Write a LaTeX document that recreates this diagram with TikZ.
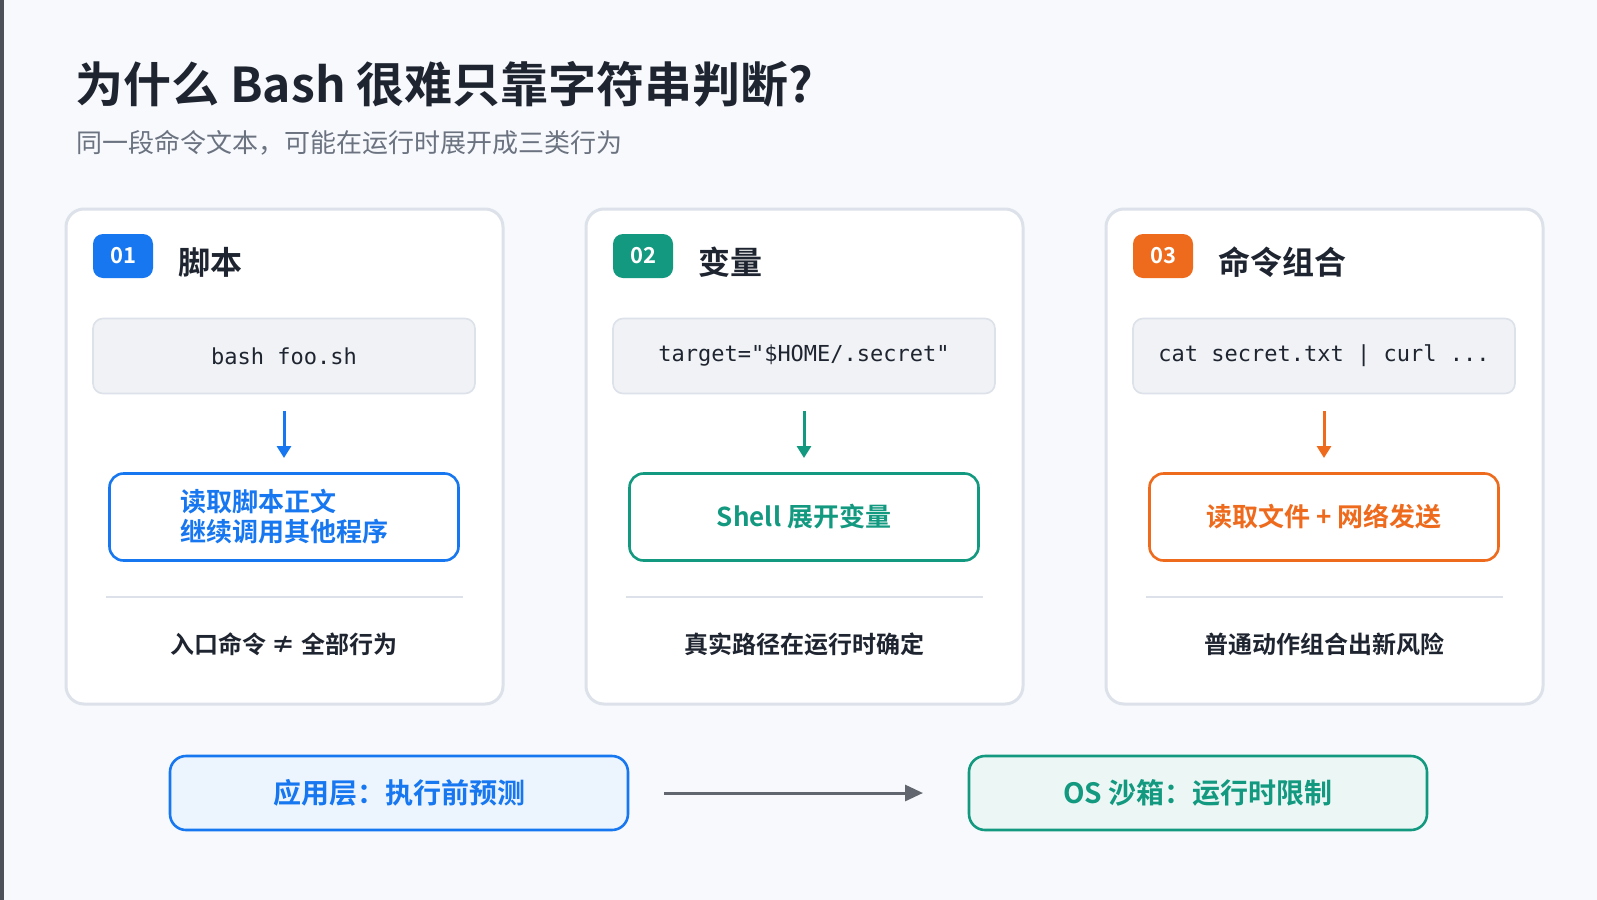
\documentclass[tikz,border=0pt]{standalone}
\usepackage{fontspec}
\setmainfont{Noto Sans CJK SC}
\newfontfamily\cjkb{Noto Sans CJK SC Bold}
\newfontfamily\mono{DejaVu Sans Mono}
\usetikzlibrary{arrows.meta}
\definecolor{bg}{HTML}{F7F9FC}
\definecolor{ink}{HTML}{1F2530}
\definecolor{sub}{HTML}{6B7280}
\definecolor{cb}{HTML}{1677F0}
\definecolor{ct}{HTML}{12997F}
\definecolor{co}{HTML}{EE6A1C}
\definecolor{bord}{HTML}{DDE2EA}
\definecolor{codebg}{HTML}{F0F2F5}
\tikzset{
 card/.style={draw=bord,line width=1.5pt,fill=white,rounded corners=9pt},
 badge/.style={fill=#1,rounded corners=5pt,text=white,font=\cjkb\fontsize{11}{11}\selectfont,minimum width=30pt,minimum height=22pt,inner sep=0},
 ctitle/.style={anchor=west,text=ink,font=\cjkb\fontsize{16}{16}\selectfont},
 code/.style={draw=bord,fill=codebg,rounded corners=5pt,line width=0.8pt,minimum width=191pt,minimum height=37.5pt,font=\mono\fontsize{11}{11}\selectfont,text=ink},
 res/.style={draw=#1,line width=1.3pt,fill=white,rounded corners=7pt,minimum width=174.5pt,minimum height=43.5pt,text=#1,font=\cjkb\fontsize{13}{15}\selectfont,align=left},
 arr/.style={-{Triangle[length=6pt,width=7pt]},line width=1.5pt,draw=#1},
 foot/.style={text=ink,font=\cjkb\fontsize{12}{12}\selectfont},
 bot/.style={draw=#1,line width=1.3pt,rounded corners=8pt,minimum width=229pt,minimum height=37pt,text=#1,font=\cjkb\fontsize{14}{14}\selectfont},
}
\begin{document}
\begin{tikzpicture}[x=0.5pt,y=-0.5pt]
\fill[bg] (0,0) rectangle (1597,900);
\fill[ink!80] (0,0) rectangle (4,900);
\node[anchor=base west,text=ink,font=\cjkb\fontsize{24}{24}\selectfont,inner sep=0] (t) at (75,102) {为什么 Bash 很难只靠字符串判断?};
\node[anchor=base west,text=sub,font=\fontsize{13}{13}\selectfont,inner sep=0] (s) at (76,152) {同一段命令文本，可能在运行时展开成三类行为};
\foreach \i/\x/\c/\n/\ti/\cd/\rs/\ft in {
 a/66/cb/01/脚本/{bash foo.sh}/{读取脚本正文\\继续调用其他程序}/{入口命令 ≠ 全部行为},
 b/586/ct/02/变量/{target="\$HOME/.secret"}/{Shell 展开变量}/{真实路径在运行时确定},
 c/1106/co/03/命令组合/{cat secret.txt | curl ...}/{读取文件 + 网络发送}/{普通动作组合出新风险}}{
 \draw[card] (\x,209) rectangle ++(437,495);
 \node[badge=\c] (bd\i) at (\x+57,256) {\n};
 \node[ctitle] (ti\i) at (\x+105,262) {\ti};
 \node[code] (cd\i) at (\x+218,356) {\cd};
 \node[res=\c] (rs\i) at (\x+218,517) {\rs};
 \draw[arr=\c] (\x+218,411) -- (\x+218,458);
 \draw[bord,line width=1pt] (\x+40,597) -- (\x+397,597);
 \node[foot] (ft\i) at (\x+218,644) {\ft};
}
\node[bot=cb,fill=cb!8] (l) at (399,793) {应用层：执行前预测};
\node[bot=ct,fill=ct!8] (r) at (1198,793) {OS 沙箱：运行时限制};
\draw[-{Triangle[length=9pt,width=8pt]},line width=1.5pt,draw=ink!70] (664,793) -- (923,793);
\end{tikzpicture}
\end{document}
